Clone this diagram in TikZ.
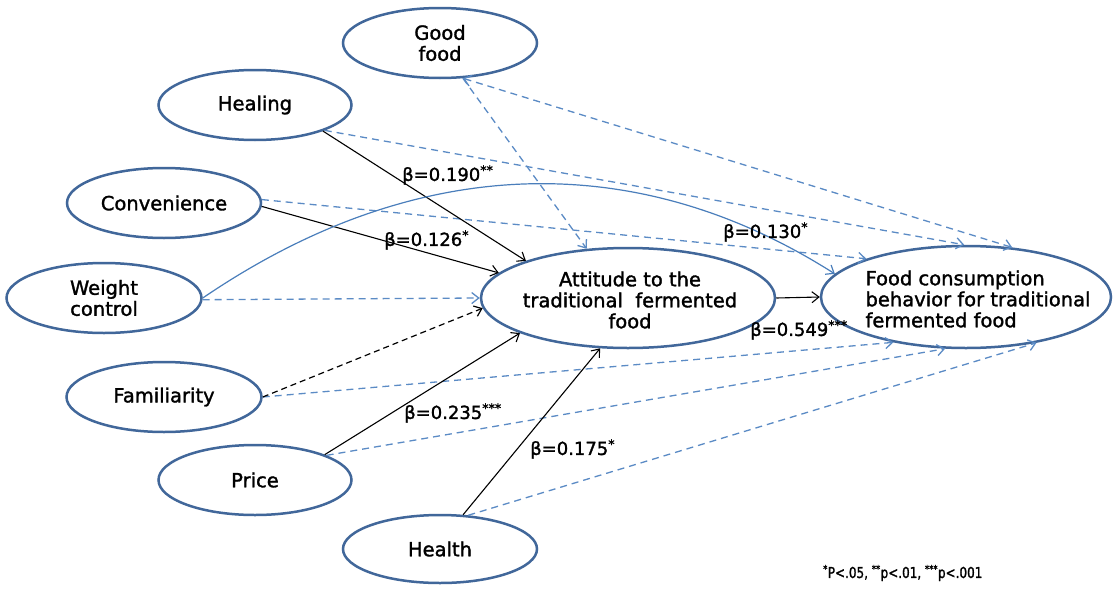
\documentclass[tikz,border=0pt]{standalone}
\usepackage{fontspec}
\setmainfont{DejaVu Sans}[FakeBold=1.5]
\usetikzlibrary{shapes.geometric,arrows.meta}
\definecolor{ebord}{HTML}{41679A}
\definecolor{dblue}{HTML}{5B8BC5}
\definecolor{cblue}{HTML}{4A7EBB}
\begin{document}
\begin{tikzpicture}[x=1pt,y=-1pt,
  ell/.style={ellipse, draw=ebord, line width=2.5pt, inner sep=0pt, fill=white,
    font=\fontsize{19.5}{21}\selectfont, align=center},
  txt/.style={inner sep=0pt, font=\fontsize{19.5}{21}\selectfont},
  tip/.style={-{Straight Barb[length=7pt,width=11pt]}},
  solidarr/.style={tip, draw=black, line width=1.1pt},
  bdash/.style={tip, draw=dblue, line width=1.3pt, dash pattern=on 7pt off 5pt},
  kdash/.style={tip, draw=black, line width=1.2pt, dash pattern=on 6pt off 4pt},
  curvearr/.style={tip, draw=cblue, line width=1.2pt},
  beta/.style={anchor=west, inner sep=0pt, font=\fontsize{18}{20}\selectfont}]
\useasboundingbox (0,0) rectangle (1113,589);
\fill[white] (0,0) rectangle (1113,589);

% nodes
\node[ell, minimum width=194pt, minimum height=70pt] (good) at (440,43) {Good\\food};
\node[ell, minimum width=193pt, minimum height=70pt] (heal) at (255,105) {Healing};
\node[ell, minimum width=194pt, minimum height=70pt] (conv) at (164,203) {Convenience};
\node[ell, minimum width=195pt, minimum height=70pt] (weight) at (104,298) {Weight\\control};
\node[ell, minimum width=195pt, minimum height=70pt] (fam) at (164,397) {Familiarity};
\node[ell, minimum width=193pt, minimum height=70pt] (price) at (255,480) {Price};
\node[ell, minimum width=194pt, minimum height=68pt] (health) at (440,549) {Health};
\node[ell, minimum width=294pt, minimum height=100pt] (att) at (628,298) {};
\node[ell, minimum width=290pt, minimum height=102pt] (food) at (966,297) {};
\node[txt, align=center] (atttxt) at (630,300) {Attitude to the\\traditional\ \ fermented\\food};
\node[txt, align=left] (foodtxt) at (978,299) {Food consumption\\behavior for traditional\\fermented food};

% blue dashed (non-significant)
\draw[bdash] (good.303) -- (att.130);
\draw[bdash, {Straight Barb[length=7pt,width=11pt]}-{Straight Barb[length=7pt,width=11pt]}] (good.303) -- (food.47);
\draw[bdash] (heal.-20) -- (food.92);
\draw[bdash] (conv.2) -- (food.159);
\draw[bdash] (weight.-1) -- (att.180);
\draw[bdash] (fam.0) -- (food.212);
\draw[bdash] (price.19) -- (food.248);
\draw[bdash] (health.50) -- (food.327);

% black dashed
\draw[kdash] (fam.0) -- (att.184);

% solid significant paths
\draw[solidarr] (heal.-21) -- (att.160);
\draw[solidarr] (conv.-2) -- (att.169);
\draw[solidarr] (price.20) -- (att.198);
\draw[solidarr] (health.56) -- (att.241);
\draw[solidarr] (att.0) -- (food.180);

% curved weight control -> food
\draw[curvearr] (weight.0) .. controls (420,150) and (640,150) .. (food.170);

% coefficient labels
\node[beta] (b1) at (402,175) {β=0.190\textsuperscript{**}};
\node[beta] (b2) at (384,240) {β=0.126\textsuperscript{*}};
\node[beta] (b3) at (723,232) {β=0.130\textsuperscript{*}};
\node[beta] (b4) at (750,330) {β=0.549\textsuperscript{***}};
\node[beta] (b5) at (404,413) {β=0.235\textsuperscript{***}};
\node[beta] (b6) at (530,449) {β=0.175\textsuperscript{*}};

% footnote
\node[anchor=west, inner sep=0pt, font=\fontsize{15}{18}\selectfont] (note) at (823,573)
  {\scalebox{0.8}[1]{\textsuperscript{*}P<.05, \textsuperscript{**}p<.01, \textsuperscript{***}p<.001}};
\end{tikzpicture}
\end{document}
